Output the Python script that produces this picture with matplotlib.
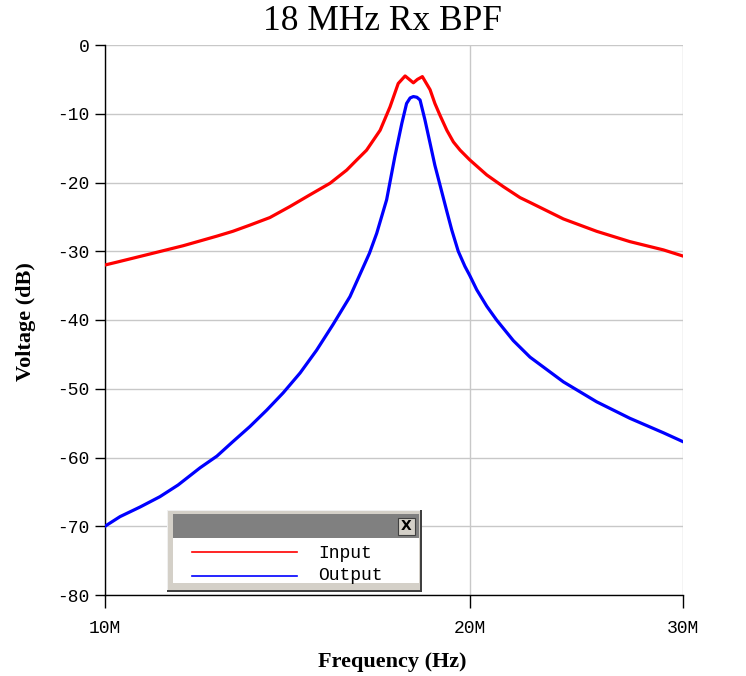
import matplotlib
matplotlib.use("Agg")
import matplotlib.pyplot as plt
from matplotlib.patches import Rectangle
from matplotlib.ticker import NullLocator

# Frequencies in MHz and voltage in dB
freq_in = [10.00, 10.22, 10.55, 10.89, 11.24, 11.60, 11.98, 12.37, 12.75, 13.17,
           13.68, 14.21, 14.76, 15.34, 15.83, 16.14, 16.44, 16.87, 17.19, 17.46,
           17.69, 17.83, 17.97, 18.11, 18.28, 18.55, 18.72, 18.90, 19.15, 19.39,
           19.64, 20.00, 20.66, 21.32, 22.01, 22.43, 23.90, 25.46, 27.12, 28.90,
           30.00]
input_db = [-32.0, -31.6, -31.0, -30.4, -29.8, -29.2, -28.5, -27.8, -27.1, -26.2,
            -25.1, -23.5, -21.8, -20.1, -18.2, -16.7, -15.3, -12.4, -9.0, -5.6,
            -4.5, -5.0, -5.5, -5.0, -4.6, -6.5, -8.5, -10.2, -12.4, -14.1,
            -15.3, -16.7, -18.9, -20.6, -22.2, -22.9, -25.3, -27.1, -28.6, -29.8,
            -30.7]

freq_out = [10.00, 10.29, 10.69, 11.10, 11.49, 11.98, 12.37, 12.75, 13.17,
            13.60, 14.03, 14.49, 14.95, 15.42, 15.93, 16.53, 16.76, 17.08, 17.35,
            17.58, 17.74, 17.86, 17.97, 18.09, 18.20, 18.37, 18.55, 18.72, 18.88,
            19.15, 19.33, 19.57, 19.82, 20.00, 20.27, 20.66, 21.05, 21.73, 22.43,
            23.90, 25.46, 27.12, 28.90, 30.00]
output_db = [-70.0, -68.6, -67.2, -65.7, -64.0, -61.5, -59.8, -57.7, -55.5,
             -53.1, -50.6, -47.7, -44.4, -40.7, -36.6, -30.3, -27.4, -22.5, -16.2,
             -11.4, -8.5, -7.7, -7.5, -7.6, -8.0, -10.9, -14.3, -17.5, -20.0,
             -24.2, -26.9, -30.0, -32.2, -33.5, -35.6, -38.0, -40.0, -43.0, -45.4,
             -49.0, -51.9, -54.3, -56.4, -57.7]

x_ticks = [10, 20, 30]
x_tick_labels = ["10M", "20M", "30M"]
y_ticks = [0, -10, -20, -30, -40, -50, -60, -70, -80]
y_tick_labels = ["0", "-10", "-20", "-30", "-40", "-50", "-60", "-70", "-80"]

title = "18 MHz Rx BPF"
x_label = "Frequency (Hz)"
y_label = "Voltage (dB)"
legend_labels = ["Input", "Output"]
colors = ["#ff0000", "#0000ff"]

W, H = 746, 676
fig = plt.figure(figsize=(W / 100, H / 100), dpi=100)
fig.patch.set_facecolor("white")

ax = fig.add_axes([105 / W, 1 - 595 / H, 578 / W, 550 / H])
ax.set_xscale("log")
ax.set_xlim(10e6, 30e6)
ax.set_ylim(-80, 0)

ax.plot([f * 1e6 for f in freq_in], input_db, color=colors[0], lw=2.3, zorder=3,
        solid_joinstyle="round")
ax.plot([f * 1e6 for f in freq_out], output_db, color=colors[1], lw=2.3, zorder=3,
        solid_joinstyle="round")

ax.set_xticks([t * 1e6 for t in x_ticks])
ax.set_xticklabels(x_tick_labels, family="Liberation Mono", fontsize=13)
ax.xaxis.set_minor_locator(NullLocator())
ax.set_yticks(y_ticks)
ax.set_yticklabels(y_tick_labels, family="Liberation Mono", fontsize=13)

ax.grid(True, color="#c8c8c8", lw=1.0, zorder=0)
ax.set_axisbelow(True)
for s in ["top", "right"]:
    ax.spines[s].set_visible(False)
for s in ["left", "bottom"]:
    ax.spines[s].set_color("black")
    ax.spines[s].set_linewidth(1.0)
ax.tick_params(axis="y", direction="out", length=7, width=1, pad=4, colors="black")
ax.tick_params(axis="x", direction="out", length=9, width=1, pad=9, colors="black")

fig.text(382 / W, 1 - 22 / H, title, family="Liberation Serif", fontsize=25.5,
         ha="center", va="center")
fig.text(392 / W, 1 - 662 / H, x_label, family="Liberation Serif", fontsize=16,
         fontweight="bold", ha="center", va="center")
fig.text(26 / W, 1 - 322 / H, y_label, family="Liberation Serif", fontsize=16,
         fontweight="bold", ha="center", va="center", rotation=90)

# Window-style legend
lx0, ly0, lw_, lh_ = 167, 510, 255, 82
lax = fig.add_axes([lx0 / W, 1 - (ly0 + lh_) / H, lw_ / W, lh_ / H])
lax.set_xlim(0, lw_)
lax.set_ylim(lh_, 0)
lax.axis("off")
lax.add_patch(Rectangle((0, 0), 255, 82, facecolor="#d4d0c8", edgecolor="none"))
lax.add_patch(Rectangle((0, 0), 255, 1.2, facecolor="#f0f0f0", edgecolor="none"))
lax.add_patch(Rectangle((0, 0), 1.2, 82, facecolor="#f0f0f0", edgecolor="none"))
lax.add_patch(Rectangle((0, 79.5), 255, 2.5, facecolor="#404040", edgecolor="none"))
lax.add_patch(Rectangle((252.5, 0), 2.5, 82, facecolor="#404040", edgecolor="none"))
lax.add_patch(Rectangle((5.5, 4), 246, 24, facecolor="#808080", edgecolor="none"))
lax.add_patch(Rectangle((5.5, 28), 246, 45, facecolor="white", edgecolor="none"))
lax.add_patch(Rectangle((231, 7.5), 17, 17, facecolor="#d4d0c8", edgecolor="#404040", lw=0.8))
lax.text(239.5, 16.5, "X", family="DejaVu Sans", fontweight="bold", fontsize=10,
         ha="center", va="center", color="black")
lax.plot([25, 130], [42.3, 42.3], color=colors[0], lw=1.2)
lax.plot([25, 130], [65.7, 65.7], color=colors[1], lw=1.2)
lax.text(151, 43, legend_labels[0], family="Liberation Mono", fontsize=13,
         ha="left", va="center")
lax.text(151, 66, legend_labels[1], family="Liberation Mono", fontsize=13,
         ha="left", va="center")

fig.savefig("out.png", dpi=100, facecolor="white")
